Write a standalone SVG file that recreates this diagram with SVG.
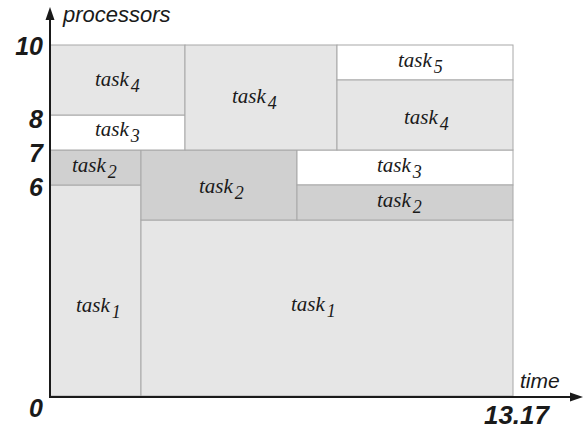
<svg xmlns="http://www.w3.org/2000/svg" width="584" height="429" viewBox="0 0 584 429">
<style>
.b{stroke:#a8a8a8;stroke-width:1}
.l{fill:#e6e6e6}
.d{fill:#d0d0d0}
.w{fill:#ffffff}
.t{font-family:'Liberation Serif','Times New Roman','DejaVu Serif',serif;font-style:italic;font-size:21px;fill:#1a1a1a}
.s{font-size:18px}
.ax{font-family:'Liberation Sans',Arial,sans-serif;font-style:italic;font-size:21px;fill:#1a1a1a}
.n{font-family:'Liberation Sans',Arial,sans-serif;font-style:italic;font-weight:bold;font-size:25px;fill:#1a1a1a}
</style>
<rect width="584" height="429" fill="#ffffff"/>
<g id="task1a"><rect class="b l" x="50" y="185" width="91" height="211"/><text class="t" x="76" y="312">task<tspan class="s" dx="2" dy="6">1</tspan></text></g>
<g id="task1b"><rect class="b l" x="141" y="220" width="372" height="176"/><text class="t" x="291" y="311">task<tspan class="s" dx="2" dy="6">1</tspan></text></g>
<g id="task2a"><rect class="b d" x="50" y="150" width="91" height="35"/><text class="t" x="72" y="172">task<tspan class="s" dx="2" dy="6">2</tspan></text></g>
<g id="task2b"><rect class="b d" x="141" y="150" width="156" height="70"/><text class="t" x="199" y="193">task<tspan class="s" dx="2" dy="6">2</tspan></text></g>
<g id="task3b"><rect class="b w" x="297" y="150" width="216" height="35"/><text class="t" x="377" y="172">task<tspan class="s" dx="2" dy="6">3</tspan></text></g>
<g id="task2c"><rect class="b d" x="297" y="185" width="216" height="35"/><text class="t" x="377" y="207">task<tspan class="s" dx="2" dy="6">2</tspan></text></g>
<g id="task3a"><rect class="b w" x="50" y="115" width="135" height="35"/><text class="t" x="95" y="136">task<tspan class="s" dx="2" dy="6">3</tspan></text></g>
<g id="task4a"><rect class="b l" x="50" y="45" width="135" height="70"/><text class="t" x="95" y="86">task<tspan class="s" dx="2" dy="6">4</tspan></text></g>
<g id="task4b"><rect class="b l" x="185" y="45" width="152" height="105"/><text class="t" x="232" y="103">task<tspan class="s" dx="2" dy="6">4</tspan></text></g>
<g id="task5"><rect class="b w" x="337" y="45" width="176" height="35"/><text class="t" x="398" y="67">task<tspan class="s" dx="2" dy="6">5</tspan></text></g>
<g id="task4c"><rect class="b l" x="337" y="80" width="176" height="70"/><text class="t" x="404" y="124">task<tspan class="s" dx="2" dy="6">4</tspan></text></g>
<g id="axes">
<line x1="50" y1="397" x2="50" y2="18" stroke="#1a1a1a" stroke-width="2"/>
<polygon points="50,7 45.5,20 54.5,20" fill="#1a1a1a"/>
<line x1="49" y1="397" x2="571" y2="397" stroke="#1a1a1a" stroke-width="2"/>
<polygon points="583,397 570,392.5 570,401.5" fill="#1a1a1a"/>
</g>
<g id="labels">
<text class="ax" x="63" y="22" style="font-size:22px">processors</text>
<text class="ax" x="520" y="388">time</text>
<text class="n" x="43" y="55" text-anchor="end">10</text>
<text class="n" x="43" y="128" text-anchor="end">8</text>
<text class="n" x="43" y="162" text-anchor="end">7</text>
<text class="n" x="43" y="196" text-anchor="end">6</text>
<text class="n" x="43" y="417" text-anchor="end">0</text>
<text class="n" x="549" y="424" text-anchor="end" style="font-size:26px">13.17</text>
</g>
</svg>
